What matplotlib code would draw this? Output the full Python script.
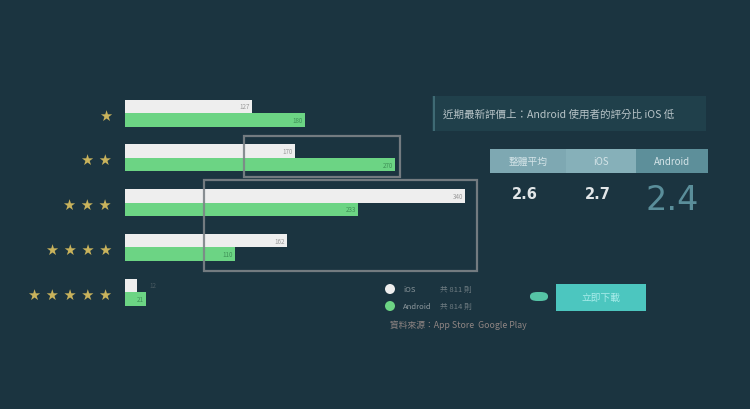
import matplotlib
matplotlib.use("Agg")
import matplotlib.pyplot as plt
from matplotlib.patches import Rectangle, FancyBboxPatch, Ellipse
import numpy as np

plt.rcParams['font.family'] = ['Noto Sans CJK TC', 'DejaVu Sans']

# ---- data ----
star_labels = ["★", "★ ★", "★ ★ ★", "★ ★ ★ ★", "★ ★ ★ ★ ★"]
ios_counts = [127, 170, 340, 162, 12]
android_counts = [180, 270, 233, 110, 21]
series_names = ["iOS", "Android"]
avg_headers = ["整體平均", "iOS", "Android"]
avg_values = ["2.6", "2.7", "2.4"]
title_text = "近期最新評價上：Android 使用者的評分比 iOS 低"
source_text = "資料來源：App Store  Google Play"
button_text = "立即下載"

BG = "#1b3440"
WHITE = "#eeeeee"
GREEN = "#6cd484"
STAR = "#c9b35c"

W, H = 750, 410
fig = plt.figure(figsize=(7.5, 4.1), dpi=100, facecolor=BG)

def fx(px):
    return px / W

def fy(py):
    return 1 - py / H

# ---- bar axes ----
ax_l, ax_r, ax_t, ax_b = 125, 475, 90, 320
ax = fig.add_axes([fx(ax_l), fy(ax_b), fx(ax_r - ax_l), (ax_b - ax_t) / H])
ax.set_facecolor("none")
ax.set_xlim(0, ax_r - ax_l)
spacing = 44.75
first = 114
ax.set_ylim((ax_b - first) / spacing, (ax_t - first) / spacing)
ax.axis("off")

rows = np.arange(len(star_labels))
bh = 13.5 / spacing
ax.barh(rows - bh / 2, ios_counts, height=bh, color=WHITE, edgecolor="none")
ax.barh(rows + bh / 2, android_counts, height=bh, color=GREEN, edgecolor="none")

for i, (a, b) in enumerate(zip(ios_counts, android_counts)):
    if a > 30:
        ax.text(a - 2, i - bh / 2, str(a), ha="right", va="center", fontsize=4.5, color="#9a9a9a")
    else:
        ax.text(a + 12, i - bh / 2, str(a), ha="left", va="center", fontsize=4.5, color="#4a5a62")
    ax.text(b - 2, i + bh / 2, str(b), ha="right", va="center", fontsize=4.5, color="#3f8f57")

# star labels
for i, s in enumerate(star_labels):
    y_px = first + spacing * i + 2
    fig.text(fx(112), fy(y_px), s, ha="right", va="center", fontsize=10.5,
             color=STAR, family="DejaVu Sans")

# ---- overlay outline boxes ----
for (x0, y0, x1, y1) in [(244, 137, 400, 178), (204, 181, 477, 272)]:
    fig.add_artist(Rectangle((fx(x0), fy(y1)), fx(x1 - x0), (y1 - y0) / H,
                             transform=fig.transFigure, fill=False,
                             edgecolor="#7d8488", lw=1.6, alpha=0.9))

# ---- title box ----
fig.add_artist(Rectangle((fx(432), fy(132)), fx(706 - 432), 35 / H,
                         transform=fig.transFigure, facecolor="#20404b",
                         edgecolor="none"))
fig.add_artist(Rectangle((fx(433), fy(132)), fx(2), 35 / H,
                         transform=fig.transFigure, facecolor="#3f6a74",
                         edgecolor="none"))
fig.text(fx(443), fy(114.5), title_text, ha="left", va="center",
         fontsize=7.6, color="#b8c4c8")

# ---- averages table ----
cells = [(490, 566, "#7ea8b2"), (566, 636, "#86b0b9"), (636, 708, "#5d8f9a")]
for (x0, x1, c), hdr in zip(cells, avg_headers):
    fig.add_artist(Rectangle((fx(x0), fy(174)), fx(x1 - x0), 24 / H,
                             transform=fig.transFigure, facecolor=c,
                             edgecolor="none"))
    fig.text(fx((x0 + x1) / 2), fy(162), hdr, ha="center", va="center",
             fontsize=7, color="#d4e4e8")
for (x0, x1, c), val, i in zip(cells, avg_values, range(3)):
    cx = (x0 + x1) / 2
    if i < 2:
        fig.text(fx(cx - 3), fy(195), val, ha="center", va="center",
                 fontsize=10.5, color="#e2e6e8", fontweight="bold",
                 family="DejaVu Sans")
    else:
        fig.text(fx(cx), fy(201), val, ha="center", va="center",
                 fontsize=24, color="#5a8e9a", family="DejaVu Sans")

# ---- legend ----
for j, (name, tot, col) in enumerate(zip(series_names,
                                         [sum(ios_counts), sum(android_counts)],
                                         [WHITE, GREEN])):
    y = 290 + 17 * j
    fig.add_artist(Ellipse((fx(390), fy(y)), 10 / W, 10 / H,
                           transform=fig.transFigure,
                           facecolor=col, edgecolor="none"))
    fig.text(fx(403), fy(y), name, ha="left", va="center", fontsize=5.5,
             color="#8d989d")
    fig.text(fx(472), fy(y), f"共 {tot} 則", ha="right", va="center",
             fontsize=5.5, color="#6f7c82")

fig.text(fx(390), fy(325), source_text, ha="left", va="center",
         fontsize=6.3, color="#8f8583")

# ---- button ----
fig.add_artist(FancyBboxPatch((fx(530), fy(302)), fx(18), 9 / H,
                              boxstyle="round,pad=0,rounding_size=0.01",
                              transform=fig.transFigure, facecolor="#56c4a6",
                              edgecolor="none"))
fig.add_artist(Rectangle((fx(556), fy(312)), fx(90), 27 / H,
                         transform=fig.transFigure, facecolor="#4cc6bf",
                         edgecolor="none"))
fig.text(fx(601), fy(298.5), button_text, ha="center", va="center",
         fontsize=7, color="#a8ecea")

fig.savefig("out.png", dpi=100, facecolor=BG)
